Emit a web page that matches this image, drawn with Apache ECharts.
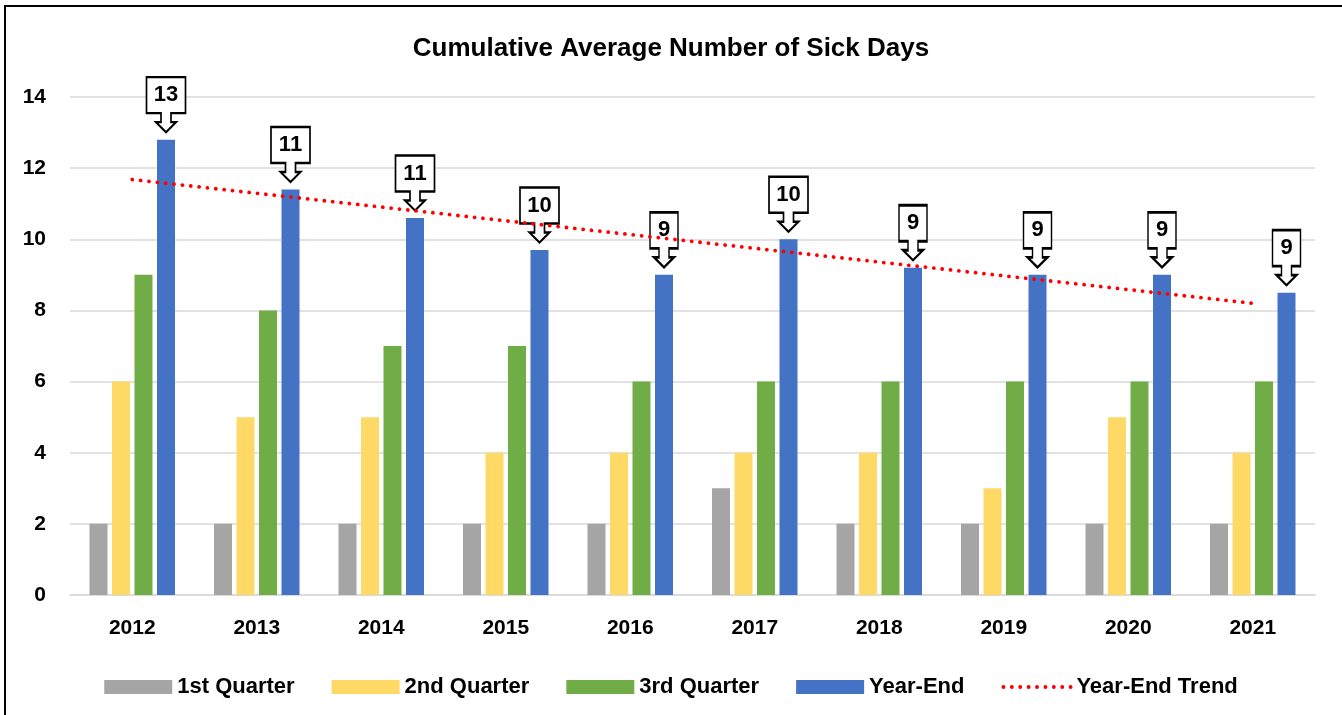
<!DOCTYPE html>
<html>
<head>
<meta charset="utf-8">
<script src="https://cdn.jsdelivr.net/npm/echarts@6/dist/echarts.min.js"></script>
<style>
html,body{margin:0;padding:0;background:#fff;}
#chart{width:1342px;height:715px;}
</style>
</head>
<body>
<div id="chart"></div>
<script>
const years = ['2012','2013','2014','2015','2016','2017','2018','2019','2020','2021'];
const q1 = [2,2,2,2,2,3,2,2,2,2];
const q2 = [6,5,5,4,4,4,4,3,5,4];
const q3 = [9,8,7,7,6,6,6,6,6,6];
const yearEnd = [12.8,11.4,10.6,9.7,9.0,10.0,9.2,9.0,9.0,8.5];
const trendStart = 11.68;
const trendEnd = 8.2;
const seriesNames = ['1st Quarter','2nd Quarter','3rd Quarter','Year-End','Year-End Trend'];

const FONT = "'Liberation Sans', Arial, sans-serif";
const BAR_W = 18;
const TREND_LINE = {color:'#FF0000',width:3.8,type:[0.1,8.3],cap:'round'};

function calloutPath(w){
  const c = w/2;
  return 'path://M0,0 H'+w+' V36 H'+(c+5)+' V45 H'+(c+10)+' L'+c+',55 L'+(c-10)+',45 H'+(c-5)+' V36 H0 Z';
}
function calloutWidth(v){ return String(Math.round(v)).length > 1 ? 39 : 28; }

const chart = echarts.init(document.getElementById('chart'));
chart.setOption({
  animation:false,
  backgroundColor:'#fff',
  textStyle:{fontFamily:FONT},
  title:{
    text:'Cumulative Average Number of Sick Days',
    left:'center', top:31,
    textStyle:{fontFamily:FONT,fontWeight:'bold',fontSize:26,color:'#000'}
  },
  graphic:[{
    type:'rect', shape:{x:5,y:6,width:1400,height:800},
    style:{fill:'none',stroke:'#000',lineWidth:2}, silent:true, z:100
  }],
  legend:{
    data:[
      {name:seriesNames[0],icon:'rect'},
      {name:seriesNames[1],icon:'rect'},
      {name:seriesNames[2],icon:'rect'},
      {name:seriesNames[3],icon:'rect'},
      {name:seriesNames[4], itemStyle:{color:'rgba(0,0,0,0)',borderColor:'rgba(0,0,0,0)',borderWidth:0}, lineStyle:TREND_LINE}
    ],
    top:671, left:'center',
    itemWidth:68, itemHeight:14, itemGap:37,
    textStyle:{fontFamily:FONT,fontWeight:'bold',fontSize:22,color:'#000'}
  },
  grid:{left:70,right:27,top:97,bottom:120,containLabel:false},
  xAxis:{
    type:'category', data:years,
    axisLine:{lineStyle:{color:'#D9D9D9',width:1.5}},
    axisTick:{show:false},
    axisLabel:{fontFamily:FONT,fontWeight:'bold',fontSize:21,color:'#000',margin:23}
  },
  yAxis:{
    type:'value', min:0, max:14, interval:2,
    axisLine:{show:false}, axisTick:{show:false},
    splitLine:{lineStyle:{color:'#D9D9D9',width:1.5}},
    axisLabel:{fontFamily:FONT,fontWeight:'bold',fontSize:21,color:'#000',margin:24}
  },
  series:[
    {name:seriesNames[0],type:'bar',data:q1,barWidth:BAR_W,barGap:'25%',itemStyle:{color:'#A5A5A5'}},
    {name:seriesNames[1],type:'bar',data:q2,barWidth:BAR_W,barGap:'25%',itemStyle:{color:'#FFD966'}},
    {name:seriesNames[2],type:'bar',data:q3,barWidth:BAR_W,barGap:'25%',itemStyle:{color:'#70AD47'}},
    {name:seriesNames[3],type:'bar',data:yearEnd,barWidth:BAR_W,barGap:'25%',itemStyle:{color:'#4472C4'}},
    {
      name:'callouts', type:'scatter', data:yearEnd, z:3,
      symbol:function(v){ return calloutPath(calloutWidth(v)); },
      symbolSize:function(v){ return [calloutWidth(v),55]; },
      symbolOffset:[BAR_W*1.5+BAR_W*0.25*1.5, -35],
      itemStyle:{color:'#fff',borderColor:'#000',borderWidth:2,opacity:1},
      label:{
        show:true, position:'inside', offset:[0,-9.5],
        formatter:function(p){ return Math.round(p.value); },
        fontFamily:FONT, fontWeight:'bold', fontSize:22, color:'#000'
      },
      emphasis:{disabled:true}
    },
    {
      name:seriesNames[4], type:'line', z:5,
      data:[[years[0],trendStart],[years[years.length-1],trendEnd]],
      symbol:'none',
      lineStyle:TREND_LINE,
      itemStyle:{color:'#FF0000'}
    }
  ]
});
</script>
</body>
</html>
